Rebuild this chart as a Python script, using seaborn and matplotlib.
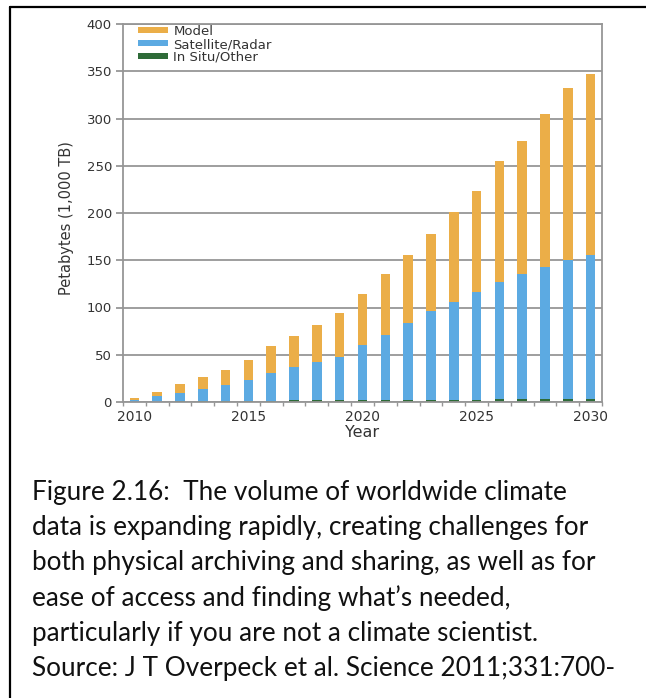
import numpy as np
import pandas as pd
import matplotlib
matplotlib.use("Agg")
import matplotlib.pyplot as plt
import seaborn as sns
from matplotlib.lines import Line2D
from matplotlib.patches import Patch

# ---------------- data ----------------
years = list(range(2010, 2031))
in_situ = [0.3, 0.5, 0.7, 0.9, 1.1, 1.3, 1.5, 1.7, 1.9, 2.0, 2.1,
           2.2, 2.3, 2.4, 2.5, 2.6, 2.8, 3.0, 3.1, 3.3, 3.5]
satellite = [1.7, 5.5, 9.3, 13.1, 16.9, 21.7, 29.5, 35.3, 40.1, 46.0, 57.9,
             68.8, 81.7, 93.6, 103.5, 113.4, 124.2, 132.0, 139.9, 146.7, 152.5]
model = [2, 5, 9, 12, 16, 21, 28, 33, 39, 46, 54,
         64, 72, 82, 95, 107, 128, 141, 162, 182, 191]
series_names = ["Model", "Satellite/Radar", "In Situ/Other"]
x_tick_years = [2010, 2015, 2020, 2025, 2030]
x_tick_labels = ["2010", "2015", "2020", "2025", "2030"]
y_ticks = [0, 50, 100, 150, 200, 250, 300, 350, 400]
y_label = "Petabytes (1,000 TB)"
x_label = "Year"
caption_lines = [
    "Figure 2.16:  The volume of worldwide climate",
    "data is expanding rapidly, creating challenges for",
    "both physical archiving and sharing, as well as for",
    "ease of access and finding what\u2019s needed,",
    "particularly if you are not a climate scientist.",
    "Source: J T Overpeck et al. Science 2011;331:700-",
]

# ---------------- style ----------------
c_model = "#EBAE48"
c_sat = "#5CAAE2"
c_insitu = "#2E6B38"
c_grid = "#969696"
c_text = "#333333"

sns.set_style("white")
plt.rcParams["font.family"] = ["DejaVu Sans"]

df = pd.DataFrame({"Year": years, "In Situ/Other": in_situ,
                   "Satellite/Radar": satellite, "Model": model})
df["sat_top"] = df["In Situ/Other"] + df["Satellite/Radar"]
df["total"] = df["sat_top"] + df["Model"]

W, H = 646, 698
fig = plt.figure(figsize=(W / 100, H / 100), dpi=100)
ax = fig.add_axes([123 / W, 1 - 402 / H, 479 / W, 378 / H])

for col, color in [("total", c_model), ("sat_top", c_sat), ("In Situ/Other", c_insitu)]:
    sns.barplot(data=df, x="Year", y=col, color=color, width=0.42,
                native_scale=True, ax=ax, saturation=1, linewidth=0,
                errorbar=None)

ax.set_xlim(2009.5, 2030.5)
ax.set_ylim(0, 400)
ax.set_axisbelow(True)
ax.yaxis.grid(True, color=c_grid, linewidth=1.3)
ax.xaxis.grid(False)
for s in ax.spines.values():
    s.set_visible(True)
    s.set_color(c_grid)
    s.set_linewidth(1.3)

ax.set_yticks(y_ticks)
ax.set_yticklabels([str(v) for v in y_ticks])
ax.set_xticks(x_tick_years)
ax.set_xticklabels(x_tick_labels)
ax.set_xticks(np.arange(2009.5, 2031, 1.0), minor=True)
ax.tick_params(axis="x", which="major", length=0, pad=5.5, labelsize=10, labelcolor=c_text)
ax.tick_params(axis="x", which="minor", length=3, width=1, color=c_grid, direction="out", bottom=True)
ax.tick_params(axis="y", which="major", length=5, width=1.3, color=c_grid, direction="out",
               left=True, pad=3, labelsize=9.5, labelcolor=c_text)

ax.set_ylabel(y_label, fontsize=10.5, color=c_text)
ax.set_xlabel(x_label, fontsize=11.5, color=c_text)
ax.yaxis.set_label_coords((74 - 123) / 479, (402 - 218) / 378)
ax.xaxis.set_label_coords(0.5, (402 - 425) / 378)

handles = [Patch(facecolor=c_model, edgecolor="none"),
           Patch(facecolor=c_sat, edgecolor="none"),
           Patch(facecolor=c_insitu, edgecolor="none")]
leg = ax.legend(handles, series_names, loc="upper left",
                bbox_to_anchor=((138 - 123) / 479, (402 - 25) / 378),
                frameon=False, fontsize=9.5, handlelength=2.3, handleheight=0.35,
                handletextpad=0.38, labelspacing=0.0, borderpad=0, borderaxespad=0)
for t in leg.get_texts():
    t.set_color(c_text)

# ---------------- caption ----------------
cap_family = ["Lato", "DejaVu Sans"]
probe = fig.text(32 / W, 0.5, caption_lines[-1], fontsize=19, family=cap_family)
fig.canvas.draw()
w = probe.get_window_extent(fig.canvas.get_renderer()).width
cap_fs = 19 * 583 / w
probe.remove()
baselines = [500, 535.2, 570.4, 605.6, 640.8, 676]
for line, yb in zip(caption_lines, baselines):
    fig.text(32 / W, 1 - yb / H, line, fontsize=cap_fs, family=cap_family,
             va="baseline", ha="left", color="#111111")

# ---------------- border ----------------
fig.add_artist(Line2D([9.5 / W, 1], [1 - 6.5 / H] * 2, transform=fig.transFigure,
                      color="black", linewidth=1.6))
fig.add_artist(Line2D([10 / W] * 2, [0, 1 - 6.5 / H], transform=fig.transFigure,
                      color="black", linewidth=1.6))

fig.savefig("out.png", dpi=100)
